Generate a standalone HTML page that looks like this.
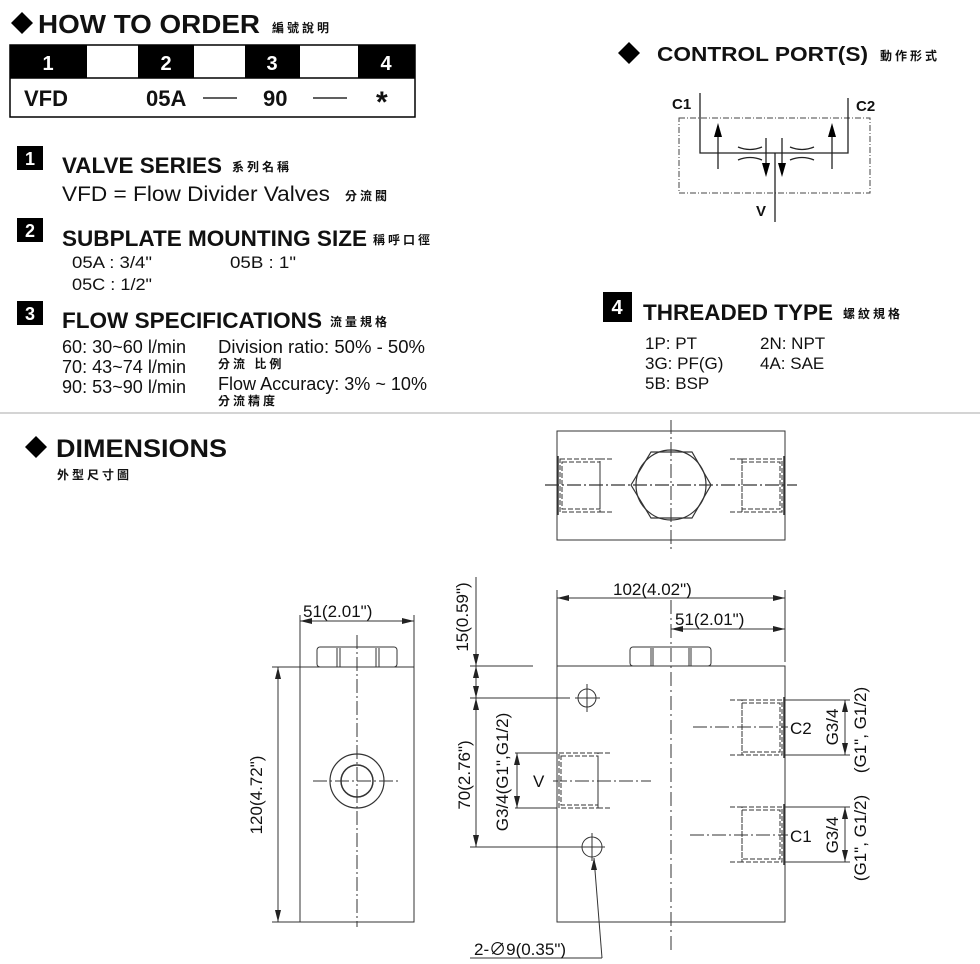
<!DOCTYPE html>
<html><head><meta charset="utf-8"><style>
html,body{margin:0;padding:0;background:#fff;}
svg{display:block;}
text{font-family:"Liberation Sans","Noto Sans CJK TC",sans-serif;fill:#111;}
.b{font-weight:bold;}
.cj{font-size:12px;letter-spacing:3px;font-weight:bold;}
</style></head><body>
<svg width="980" height="964" viewBox="0 0 980 964" xmlns="http://www.w3.org/2000/svg">
<!-- HOW TO ORDER -->
<polygon points="22,12 33,23 22,34 11,23" fill="#000"/>
<text x="38" y="33" class="b" font-size="26" textLength="222" lengthAdjust="spacingAndGlyphs">HOW TO  ORDER</text>
<text x="272" y="32" class="cj">編號說明</text>
<rect x="10" y="45" width="405" height="72" fill="#fff" stroke="#000" stroke-width="1.5"/>
<rect x="10" y="45" width="77" height="33" fill="#000"/>
<rect x="138" y="45" width="56" height="33" fill="#000"/>
<rect x="245" y="45" width="55" height="33" fill="#000"/>
<rect x="358" y="45" width="57" height="33" fill="#000"/>
<line x1="10" y1="78" x2="415" y2="78" stroke="#000" stroke-width="1.5"/>
<g class="b" font-size="20" text-anchor="middle">
<text x="48" y="70" style="fill:#fff">1</text>
<text x="166" y="70" style="fill:#fff">2</text>
<text x="272" y="70" style="fill:#fff">3</text>
<text x="386" y="70" style="fill:#fff">4</text>
</g>
<g class="b" font-size="22">
<text x="24" y="106">VFD</text>
<text x="146" y="106">05A</text>
<text x="263" y="106">90</text>
<text x="376" y="112" font-size="30">*</text>
</g>
<line x1="203" y1="98" x2="237" y2="98" stroke="#000" stroke-width="1.2"/>
<line x1="313" y1="98" x2="347" y2="98" stroke="#000" stroke-width="1.2"/>

<!-- Sections 1-3 -->
<rect x="17" y="146" width="26" height="24" fill="#000"/>
<text x="30" y="165" text-anchor="middle" class="b" font-size="18" style="fill:#fff">1</text>
<text x="62" y="173" class="b" font-size="22" textLength="160" lengthAdjust="spacingAndGlyphs">VALVE SERIES</text>
<text x="232" y="171" class="cj">系列名稱</text>
<text x="62" y="201" font-size="21" textLength="268" lengthAdjust="spacingAndGlyphs">VFD = Flow Divider Valves</text>
<text x="345" y="200" class="cj">分流閥</text>

<rect x="17" y="218" width="26" height="24" fill="#000"/>
<text x="30" y="237" text-anchor="middle" class="b" font-size="18" style="fill:#fff">2</text>
<text x="62" y="246" class="b" font-size="22" textLength="305" lengthAdjust="spacingAndGlyphs">SUBPLATE MOUNTING SIZE</text>
<text x="373" y="244" class="cj">稱呼口徑</text>
<text x="72" y="268" font-size="17" textLength="80" lengthAdjust="spacingAndGlyphs">05A : 3/4"</text>
<text x="230" y="268" font-size="17" textLength="66" lengthAdjust="spacingAndGlyphs">05B : 1"</text>
<text x="72" y="290" font-size="17" textLength="80" lengthAdjust="spacingAndGlyphs">05C : 1/2"</text>

<rect x="17" y="301" width="26" height="24" fill="#000"/>
<text x="30" y="320" text-anchor="middle" class="b" font-size="18" style="fill:#fff">3</text>
<text x="62" y="328" class="b" font-size="22" textLength="260" lengthAdjust="spacingAndGlyphs">FLOW SPECIFICATIONS</text>
<text x="330" y="326" class="cj">流量規格</text>
<g font-size="18">
<text x="62" y="353" textLength="124" lengthAdjust="spacingAndGlyphs">60: 30~60 l/min</text>
<text x="62" y="373" textLength="124" lengthAdjust="spacingAndGlyphs">70: 43~74 l/min</text>
<text x="62" y="393" textLength="124" lengthAdjust="spacingAndGlyphs">90: 53~90 l/min</text>
<text x="218" y="353" textLength="207" lengthAdjust="spacingAndGlyphs">Division ratio:  50% - 50%</text>
<text x="218" y="390" textLength="209" lengthAdjust="spacingAndGlyphs">Flow Accuracy: 3% ~ 10%</text>
</g>
<text x="218" y="368" class="cj">分流 比例</text>
<text x="218" y="405" class="cj">分流精度</text>

<line x1="0" y1="413" x2="980" y2="413" stroke="#aaa" stroke-width="1"/>

<!-- CONTROL PORTS -->
<polygon points="629,42 640,53 629,64 618,53" fill="#000"/>
<text x="657" y="61" class="b" font-size="20" textLength="211" lengthAdjust="spacingAndGlyphs">CONTROL PORT(S)</text>
<text x="880" y="60" class="cj">動作形式</text>
<text x="672" y="109" class="b" font-size="15">C1</text>
<text x="856" y="111" class="b" font-size="15">C2</text>
<rect x="679" y="118" width="191" height="75" fill="none" stroke="#444" stroke-width="1" stroke-dasharray="6,2,1,2"/>
<g stroke="#222" stroke-width="1.3" fill="none">
<polyline points="700,93 700,153 848,153 848,98"/>
<line x1="775" y1="153" x2="775" y2="222"/>
<line x1="718" y1="169" x2="718" y2="135"/>
<line x1="832" y1="169" x2="832" y2="135"/>
<line x1="766" y1="138" x2="766" y2="165"/>
<line x1="782" y1="138" x2="782" y2="165"/>
<path d="M738,147 Q750,152 762,147 M738,160 Q750,155 762,160 M790,147 Q802,152 814,147 M790,160 Q802,155 814,160"/>
</g>
<g fill="#000">
<polygon points="718,123 714,137 722,137"/>
<polygon points="832,123 828,137 836,137"/>
<polygon points="766,177 762,163 770,163"/>
<polygon points="782,177 778,163 786,163"/>
</g>
<text x="756" y="216" class="b" font-size="15">V</text>

<!-- Section 4 -->
<rect x="603" y="292" width="29" height="30" fill="#000"/>
<text x="617" y="314" text-anchor="middle" class="b" font-size="20" style="fill:#fff">4</text>
<text x="643" y="320" class="b" font-size="22" textLength="190" lengthAdjust="spacingAndGlyphs">THREADED TYPE</text>
<text x="843" y="318" class="cj">螺紋規格</text>
<g font-size="17">
<text x="645" y="349">1P: PT</text>
<text x="760" y="349">2N: NPT</text>
<text x="645" y="369">3G: PF(G)</text>
<text x="760" y="369">4A: SAE</text>
<text x="645" y="389">5B: BSP</text>
</g>

<!-- DIMENSIONS -->
<polygon points="36,436 47,447 36,458 25,447" fill="#000"/>
<text x="56" y="457" class="b" font-size="25" textLength="171" lengthAdjust="spacingAndGlyphs">DIMENSIONS</text>
<text x="57" y="479" class="cj">外型尺寸圖</text>

<g stroke="#333" stroke-width="1" fill="none">
<!-- top view -->
<rect x="557" y="431" width="228" height="109"/>
<line x1="671" y1="420" x2="671" y2="550" stroke-dasharray="14,3,2,3"/>
<line x1="545" y1="485" x2="797" y2="485" stroke-dasharray="14,3,2,3" stroke-width="1.3"/>
<polygon points="631,485 651,452 692,452 711,485 692,518 651,518" stroke-width="1.2"/>
<circle cx="671" cy="485" r="35" stroke-width="1.2"/>
<g stroke-dasharray="5,2">
<rect x="560" y="459" width="40" height="53"/>
<rect x="562" y="462" width="38" height="47"/>
<line x1="600" y1="459" x2="612" y2="459"/><line x1="600" y1="512" x2="612" y2="512"/>
<rect x="742" y="459" width="40" height="53"/>
<rect x="742" y="462" width="38" height="47"/>
<line x1="730" y1="459" x2="742" y2="459"/><line x1="730" y1="512" x2="742" y2="512"/>
</g>
<line x1="558" y1="456" x2="558" y2="515" stroke-width="1.5"/>
<line x1="784" y1="456" x2="784" y2="515" stroke-width="1.5"/>

<!-- side view -->
<rect x="300" y="667" width="114" height="255"/>
<line x1="357" y1="635" x2="357" y2="927" stroke-dasharray="14,3,2,3"/>
<rect x="317" y="647" width="80" height="20" rx="3"/>
<line x1="337" y1="648" x2="337" y2="667"/><line x1="340" y1="648" x2="340" y2="667"/>
<line x1="376" y1="648" x2="376" y2="667"/><line x1="379" y1="648" x2="379" y2="667"/>
<line x1="300" y1="615" x2="300" y2="667"/><line x1="414" y1="615" x2="414" y2="667"/>
<line x1="300" y1="621" x2="414" y2="621"/>
<line x1="272" y1="667" x2="300" y2="667"/><line x1="272" y1="922" x2="300" y2="922"/>
<line x1="278" y1="667" x2="278" y2="922"/>
<circle cx="357" cy="781" r="27" stroke-width="1.2"/>
<circle cx="357" cy="781" r="16" stroke-width="1.5"/>
<line x1="313" y1="781" x2="401" y2="781" stroke-dasharray="14,3,2,3"/>

<!-- front view -->
<rect x="557" y="666" width="228" height="256"/>
<line x1="671" y1="600" x2="671" y2="950" stroke-dasharray="14,4,2,4"/>
<rect x="630" y="647" width="81" height="19" rx="3"/>
<line x1="651" y1="648" x2="651" y2="666"/><line x1="653" y1="648" x2="653" y2="666"/>
<line x1="689" y1="648" x2="689" y2="666"/><line x1="691" y1="648" x2="691" y2="666"/>
<line x1="557" y1="590" x2="557" y2="666"/><line x1="785" y1="590" x2="785" y2="662"/>
<line x1="557" y1="598" x2="785" y2="598"/>
<line x1="671" y1="629" x2="785" y2="629"/>
<line x1="476" y1="577" x2="476" y2="847"/>
<line x1="470" y1="666" x2="533" y2="666"/>
<line x1="470" y1="698" x2="570" y2="698"/>
<line x1="470" y1="847" x2="600" y2="847"/>
<circle cx="587" cy="698" r="9"/>
<line x1="587" y1="684" x2="587" y2="712"/><line x1="575" y1="698" x2="600" y2="698"/>
<circle cx="592" cy="847" r="10"/>
<line x1="592" y1="833" x2="592" y2="861"/><line x1="578" y1="847" x2="605" y2="847"/>
<!-- V port -->
<g stroke-dasharray="5,2">
<rect x="559" y="753" width="39" height="55"/><rect x="561" y="756" width="37" height="49"/>
<line x1="598" y1="753" x2="612" y2="753"/><line x1="598" y1="808" x2="612" y2="808"/>
</g>
<line x1="515" y1="753" x2="557" y2="753"/><line x1="515" y1="808" x2="557" y2="808"/>
<line x1="517" y1="753" x2="517" y2="808"/>
<line x1="553" y1="781" x2="651" y2="781" stroke-dasharray="14,3,2,3"/>
<!-- C2 / C1 -->
<g stroke-dasharray="5,2">
<rect x="742" y="700" width="40" height="55"/><rect x="742" y="703" width="38" height="49"/>
<line x1="730" y1="700" x2="742" y2="700"/><line x1="730" y1="755" x2="742" y2="755"/>
<rect x="742" y="807" width="40" height="55"/><rect x="742" y="810" width="38" height="49"/>
<line x1="730" y1="807" x2="742" y2="807"/><line x1="730" y1="862" x2="742" y2="862"/>
</g>
<line x1="784" y1="697" x2="784" y2="758" stroke-width="1.5"/>
<line x1="784" y1="804" x2="784" y2="865" stroke-width="1.5"/>
<line x1="693" y1="727" x2="788" y2="727" stroke-dasharray="14,3,2,3"/>
<line x1="690" y1="835" x2="788" y2="835" stroke-dasharray="14,3,2,3"/>
<line x1="785" y1="700" x2="850" y2="700"/><line x1="785" y1="755" x2="850" y2="755"/>
<line x1="845" y1="700" x2="845" y2="755"/>
<line x1="785" y1="807" x2="850" y2="807"/><line x1="785" y1="862" x2="850" y2="862"/>
<line x1="845" y1="807" x2="845" y2="862"/>
<!-- leader -->
<line x1="594" y1="858" x2="602" y2="958"/>
<line x1="470" y1="958" x2="602" y2="958"/>
</g>
<!-- arrowheads -->
<g fill="#222">
<polygon points="557,598 569,595 569,601"/><polygon points="785,598 773,595 773,601"/>
<polygon points="671,629 683,626 683,632"/><polygon points="785,629 773,626 773,632"/>
<polygon points="300,621 312,618 312,624"/><polygon points="414,621 402,618 402,624"/>
<polygon points="278,667 275,679 281,679"/><polygon points="278,922 275,910 281,910"/>
<polygon points="476,666 473,654 479,654"/>
<polygon points="476,666 473,678 479,678"/><polygon points="476,698 473,686 479,686"/>
<polygon points="476,698 473,710 479,710"/><polygon points="476,847 473,835 479,835"/>
<polygon points="517,753 514,765 520,765"/><polygon points="517,808 514,796 520,796"/>
<polygon points="845,700 842,712 848,712"/><polygon points="845,755 842,743 848,743"/>
<polygon points="845,807 842,819 848,819"/><polygon points="845,862 842,850 848,850"/>
<polygon points="594,858 591,870 597,870"/>
</g>
<g font-size="17">
<text x="613" y="595">102(4.02")</text>
<text x="675" y="625">51(2.01")</text>
<text x="303" y="617">51(2.01")</text>
<text x="474" y="955">2-∅9(0.35")</text>
<text x="533" y="787">V</text>
<text x="790" y="734">C2</text>
<text x="790" y="842">C1</text>
<text transform="translate(262,795) rotate(-90)" text-anchor="middle">120(4.72")</text>
<text transform="translate(468,617) rotate(-90)" text-anchor="middle">15(0.59")</text>
<text transform="translate(470,775) rotate(-90)" text-anchor="middle">70(2.76")</text>
<text transform="translate(508,772) rotate(-90)" text-anchor="middle">G3/4(G1",G1/2)</text>
<text transform="translate(838,727) rotate(-90)" text-anchor="middle">G3/4</text>
<text transform="translate(866,730) rotate(-90)" text-anchor="middle">(G1", G1/2)</text>
<text transform="translate(838,835) rotate(-90)" text-anchor="middle">G3/4</text>
<text transform="translate(866,838) rotate(-90)" text-anchor="middle">(G1", G1/2)</text>
</g>
</svg>
</body></html>
